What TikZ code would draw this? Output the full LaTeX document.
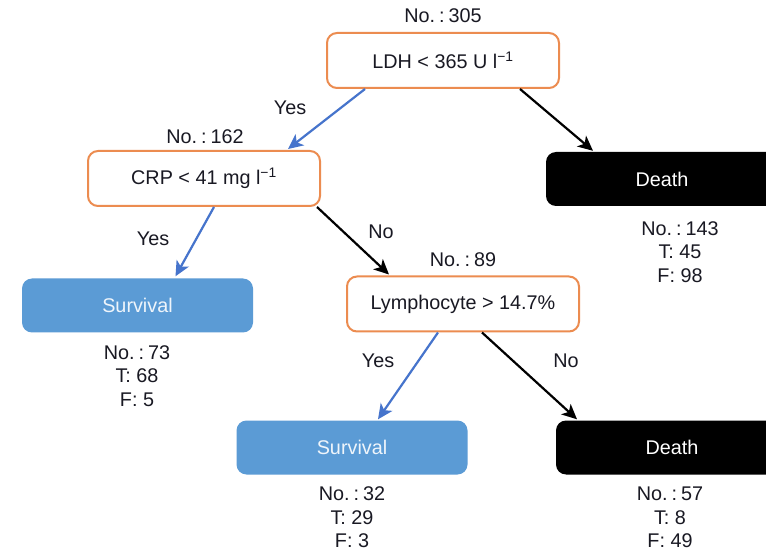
\documentclass[tikz,border=0pt]{standalone}
\usepackage{fontspec}
\setmainfont{Liberation Sans}
\usetikzlibrary{arrows.meta}
\definecolor{splitorange}{RGB}{236,140,80}
\definecolor{survblue}{RGB}{91,155,213}
\definecolor{yesblue}{RGB}{70,116,204}
\definecolor{inktext}{RGB}{25,25,35}
\newcommand{\countlabel}[1]{No.\hspace{0.2em}:\hspace{0.2em}#1}

\begin{document}
\begin{tikzpicture}[x=1pt,y=-1pt,
  txt/.style={font=\fontsize{19.8}{23.5}\selectfont, text=inktext},
  split/.style={txt, draw=splitorange, line width=2pt, rounded corners=10pt, fill=white,
    minimum width=232pt, minimum height=55pt, inner sep=0pt},
  survleaf/.style={txt, fill=survblue, text=white!90!survblue, rounded corners=10pt,
    minimum width=231pt, minimum height=54pt, inner sep=0pt},
  deathleaf/.style={txt, fill=black, text=white, rounded corners=10pt,
    minimum width=232pt, minimum height=54pt, inner sep=0pt},
  stats/.style={txt, align=center, inner sep=0pt},
  branch/.style={txt, inner sep=0pt},
  yesarrow/.style={draw=yesblue, line width=2.2pt, -{Stealth[length=15pt,width=14pt,inset=4pt]}},
  noarrow/.style={draw=black, line width=2.2pt, -{Stealth[length=15pt,width=14pt,inset=4pt]}}]

\clip (0,0) rectangle (766,553);
\fill[white] (0,0) rectangle (766,553);

% split nodes
\node[split] (ldh) at (443,60.5) {LDH < 365 U l\textsuperscript{\char"2212 1}};
\node[stats] (ldhn) at (443,16) {\countlabel{305}};

\node[split] (crp) at (204,178.5) {CRP < 41 mg l\textsuperscript{\char"2212 1}};
\node[stats] (crpn) at (205,137) {\countlabel{162}};

\node[split] (lym) at (463,304) {Lymphocyte > 14.7\%};
\node[stats] (lymn) at (463,260) {\countlabel{89}};

% leaves
\node[deathleaf] (d1) at (662,179) {Death};
\node[stats] (d1s) at (680,252) {\countlabel{143}\\T: 45\\F: 98};

\node[survleaf] (s1) at (137.5,305.5) {Survival};
\node[stats] (s1s) at (137,376) {\countlabel{73}\\T: 68\\F: 5};

\node[survleaf] (s2) at (352,447.5) {Survival};
\node[stats] (s2s) at (352,517.5) {\countlabel{32}\\T: 29\\F: 3};

\node[deathleaf] (d2) at (672,447.5) {Death};
\node[stats] (d2s) at (670,517.5) {\countlabel{57}\\T: 8\\F: 49};

% branches
\draw[yesarrow] ([xshift=-78pt]ldh.south) -- ([xshift=84pt,yshift=1pt]crp.north);
\draw[noarrow]  ([xshift=77pt]ldh.south) -- ([xshift=-69pt,yshift=1pt]d1.north);
\draw[yesarrow] ([xshift=10pt]crp.south) -- ([xshift=38pt,yshift=2pt]s1.north);
\draw[noarrow]  ([xshift=113pt]crp.south) -- ([xshift=-74pt,yshift=1pt]lym.north);
\draw[yesarrow] ([xshift=-25pt]lym.south) -- ([xshift=26pt,yshift=1pt]s2.north);
\draw[noarrow]  ([xshift=19pt]lym.south) -- ([xshift=-95pt,yshift=1pt]d2.north);

% branch labels
\node[branch] (y1) at (290,108) {Yes};
\node[branch] (y2) at (153,239) {Yes};
\node[branch] (n2) at (381,232) {No};
\node[branch] (y3) at (378,361) {Yes};
\node[branch] (n3) at (566,361) {No};
\end{tikzpicture}
\end{document}
